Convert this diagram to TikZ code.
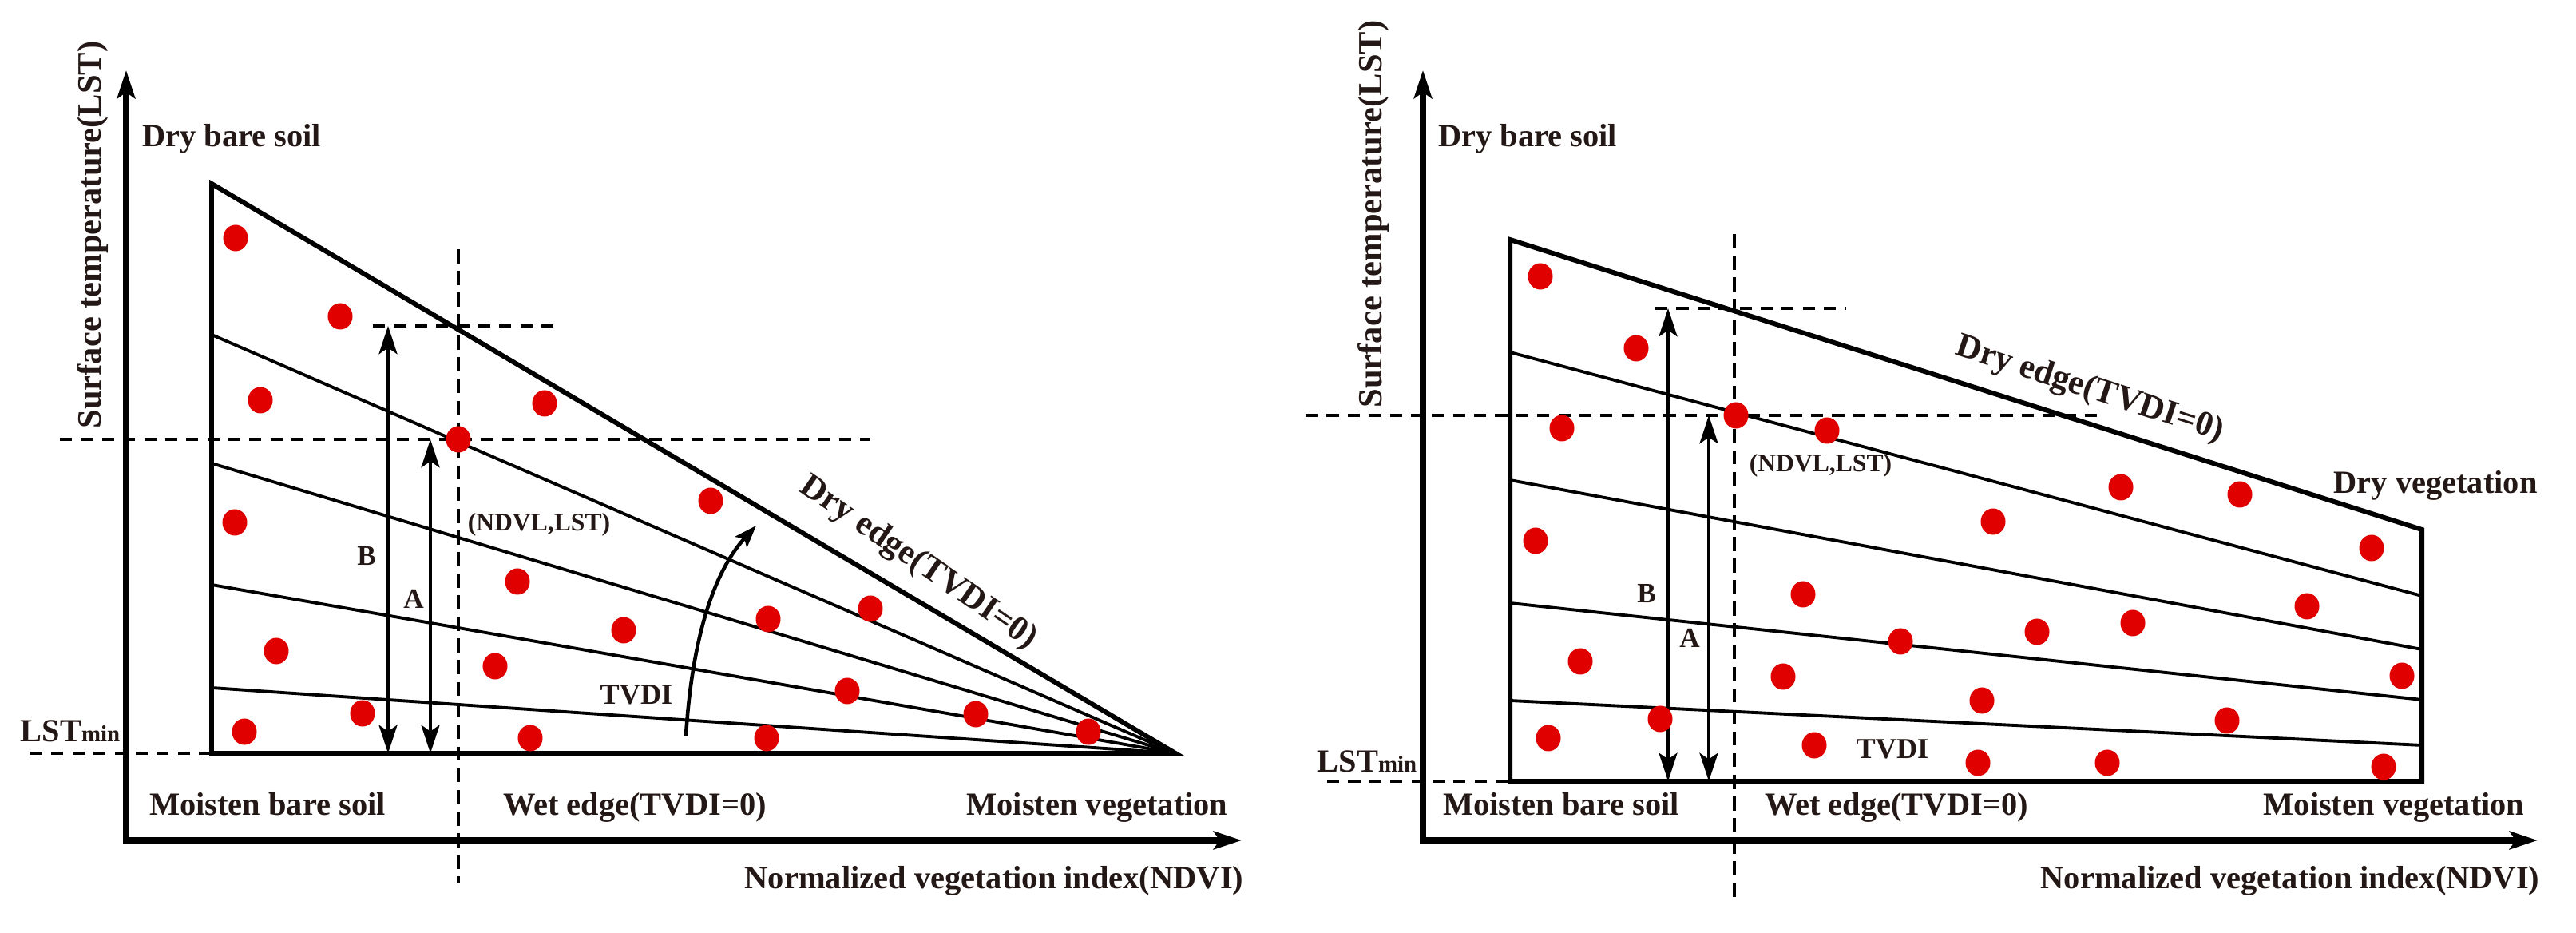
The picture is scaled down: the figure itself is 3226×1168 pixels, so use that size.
\documentclass[tikz,border=0pt]{standalone}
\usepackage{fontspec}
\setmainfont{Liberation Serif}
\usetikzlibrary{arrows.meta,shapes.geometric}
\definecolor{txt}{RGB}{35,24,21}
\definecolor{dotred}{RGB}{224,0,0}
\begin{document}
\begin{tikzpicture}[x=0.01cm,y=-0.01cm,
  axis/.style={line width=2.1pt,line join=miter,{Stealth[length=10pt,width=6.4pt,inset=2.2pt]}-{Stealth[length=10pt,width=6.4pt,inset=2.2pt]}},
  edgeline/.style={line width=1.7pt,line join=miter},
  tvline/.style={line width=1.1pt},
  hdash/.style={line width=1.25pt,dash pattern=on 4.3pt off 3.2pt},
  vdash/.style={line width=0.9pt,dash pattern=on 5pt off 2.7pt},
  dimarrow/.style={line width=1.4pt,{Stealth[length=10pt,width=6.5pt,inset=2.2pt]}-{Stealth[length=10pt,width=6.5pt,inset=2.2pt]}},
  curvarrow/.style={line width=1.3pt,-{Stealth[length=8pt,width=5.7pt,inset=1.8pt]}},
  dot/.style={ellipse,fill=dotred,inner sep=0pt,minimum width=0.31cm,minimum height=0.33cm},
  lab/.style={text=txt,inner sep=0pt,font=\fontsize{11.5}{13}\selectfont\bfseries},
  ylab/.style={text=txt,inner sep=0pt,rotate=90,font=\fontsize{12.1}{13}\selectfont\bfseries},
  edgelab/.style={text=txt,inner sep=0pt,font=\fontsize{12.3}{13}\selectfont\bfseries},
  smlab/.style={text=txt,inner sep=0pt,font=\fontsize{9}{10}\selectfont\bfseries},
  midlab/.style={text=txt,inner sep=0pt,font=\fontsize{10}{11}\selectfont\bfseries},
  tvlab/.style={text=txt,inner sep=0pt,font=\fontsize{10.3}{11}\selectfont\bfseries}
]
\useasboundingbox (0,0) rectangle (3226,1168);

% ================= LEFT PANEL =================
\coordinate (LO) at (158,1052);
\coordinate (LYT) at (158,88);
\coordinate (LXT) at (1555,1052);
\draw[axis] (LYT) -- (LO) -- (LXT);

\coordinate (LA) at (265,230);
\coordinate (LB) at (265,943);
\coordinate (LC) at (1472,943);
\coordinate (L1) at (265,419);
\coordinate (L2) at (265,580);
\coordinate (L3) at (265,732);
\coordinate (L4) at (265,861);
\draw[tvline] (L1) -- (LC);
\draw[tvline] (L2) -- (LC);
\draw[tvline] (L3) -- (LC);
\draw[tvline] (L4) -- (LC);
\draw[edgeline] (LA) -- (LB) -- (LC) -- cycle;

\coordinate (LH0) at (75,550);
\coordinate (LH1) at (1089,550);
\coordinate (LV0) at (574,312);
\coordinate (LV1) at (574,1105);
\coordinate (LS0) at (467,408);
\coordinate (LS1) at (694,408);
\coordinate (LM0) at (38,943);
\draw[hdash] (LH0) -- (LH1);
\draw[vdash] (LV0) -- (LV1);
\draw[hdash] (LS0) -- (LS1);
\draw[hdash] (LM0) -- (LB);

\coordinate (LBt) at (486,408);
\coordinate (LBb) at (486,943);
\coordinate (LAt) at (539,550);
\coordinate (LAb) at (539,943);
\draw[dimarrow] (LBt) -- (LBb);
\draw[dimarrow] (LAt) -- (LAb);

\coordinate (LT0) at (859,921);
\coordinate (LT1) at (947,658);
\draw[curvarrow] (LT0) .. controls (866,810) and (890,720) .. (LT1);

\foreach \p [count=\i] in {(295,298),(426,396),(326,501),(682,505),(294,654),(648,728),(781,789),(574,550),(346,815),(620,834),(454,893),(306,916),(664,924),(890,627),(962,775),(1090,762),(1061,865),(1222,894),(1363,916),(960,924)}
  \node[dot] (ld\i) at \p {};

\node[ylab] (lylab) at (116,294) {Surface temperature(LST)};
\node[lab,anchor=base] (ldbs) at (290,184) {Dry bare soil};
\node[lab,anchor=base west] (llst) at (25,929) {LST{\fontsize{8.2}{9}\selectfont min}};
\node[lab,anchor=base] (lmbs) at (335,1021) {Moisten bare soil};
\node[lab,anchor=base] (lwet) at (795,1021) {Wet edge(TVDI=0)};
\node[lab,anchor=base] (lmv) at (1374,1021) {Moisten vegetation};
\node[lab,anchor=base] (lndvi) at (1245,1113) {Normalized vegetation index(NDVI)};
\node[midlab] (lB) at (459,696) {B};
\node[midlab] (lAl) at (518,750) {A};
\node[smlab] (lpt) at (675,657) {(NDVL,LST)};
\node[tvlab] (ltv) at (797,870) {TVDI};
\node[edgelab,rotate=-34.5] (ldry) at (1150,705) {Dry edge(TVDI=0)};

% ================= RIGHT PANEL =================
\coordinate (RO) at (1782,1052);
\coordinate (RYT) at (1782,88);
\coordinate (RXT) at (3178,1052);
\draw[axis] (RYT) -- (RO) -- (RXT);

\coordinate (RA) at (1891,300);
\coordinate (RB) at (1891,978);
\coordinate (RC) at (3033,978);
\coordinate (RD) at (3033,663);
\coordinate (R1) at (1891,441);
\coordinate (R1e) at (3033,746);
\coordinate (R2) at (1891,601);
\coordinate (R2e) at (3033,813);
\coordinate (R3) at (1891,755);
\coordinate (R3e) at (3033,876);
\coordinate (R4) at (1891,877);
\coordinate (R4e) at (3033,933);
\draw[tvline] (R1) -- (R1e);
\draw[tvline] (R2) -- (R2e);
\draw[tvline] (R3) -- (R3e);
\draw[tvline] (R4) -- (R4e);
\draw[edgeline] (RA) -- (RB) -- (RC) -- (RD) -- cycle;

\coordinate (RH0) at (1635,520);
\coordinate (RH1) at (2634,520);
\coordinate (RV0) at (2172,293);
\coordinate (RV1) at (2172,1132);
\coordinate (RS0) at (2073,386);
\coordinate (RS1) at (2312,386);
\coordinate (RM0) at (1662,978);
\draw[hdash] (RH0) -- (RH1);
\draw[vdash] (RV0) -- (RV1);
\draw[hdash] (RS0) -- (RS1);
\draw[hdash] (RM0) -- (RB);

\coordinate (RBt) at (2089,386);
\coordinate (RBb) at (2089,978);
\coordinate (RAt) at (2140,520);
\coordinate (RAb) at (2140,978);
\draw[dimarrow] (RBt) -- (RBb);
\draw[dimarrow] (RAt) -- (RAb);

\foreach \p [count=\i] in {(1929,346),(2049,436),(1956,536),(2288,539),(1923,677),(2258,744),(2380,803),(2174,520),(1979,828),(2233,847),(2079,900),(1939,924),(2272,933),(2656,610),(2805,619),(2496,653),(2970,686),(2889,759),(2671,780),(2551,791),(3008,846),(2482,877),(2789,902),(2477,955),(2639,955),(2985,960)}
  \node[dot] (rd\i) at \p {};

\node[ylab] (rylab) at (1720,268) {Surface temperature(LST)};
\node[lab,anchor=base] (rdbs) at (1913,184) {Dry bare soil};
\node[lab,anchor=base west] (rlst) at (1649,967) {LST{\fontsize{8.2}{9}\selectfont min}};
\node[lab,anchor=base] (rmbs) at (1955,1021) {Moisten bare soil};
\node[lab,anchor=base] (rwet) at (2375,1021) {Wet edge(TVDI=0)};
\node[lab,anchor=base] (rmv) at (2998,1021) {Moisten vegetation};
\node[lab,anchor=base] (rndvi) at (2868,1113) {Normalized vegetation index(NDVI)};
\node[lab,anchor=base] (rdv) at (3050,618) {Dry vegetation};
\node[midlab] (rB) at (2062,743) {B};
\node[midlab] (rAl) at (2116,799) {A};
\node[smlab] (rpt) at (2280,583) {(NDVL,LST)};
\node[tvlab] (rtv) at (2370,938) {TVDI};
\node[edgelab,rotate=-18] (rdry) at (2617,488) {Dry edge(TVDI=0)};
\end{tikzpicture}
\end{document}
